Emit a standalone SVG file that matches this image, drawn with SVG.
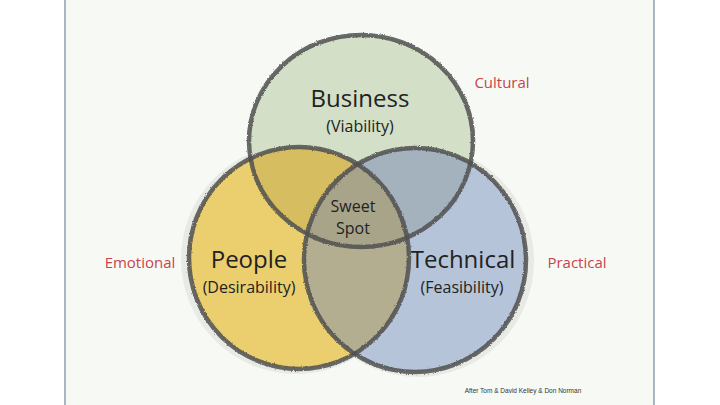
<svg xmlns="http://www.w3.org/2000/svg" width="720" height="405" viewBox="0 0 720 405">
<style>
.lbl{font-family:"Open Sans","Liberation Sans",sans-serif;fill:#222;text-anchor:middle}
.big{font-size:24px}
.sub{font-size:16px}
.red{font-family:"Open Sans","Liberation Sans",sans-serif;fill:#c9434c;font-size:15px;text-anchor:middle}
.edge{fill:none;stroke:#505050;stroke-width:4.5;stroke-opacity:0.85}
.halo{fill:none;stroke:#e7eae5;stroke-width:8}
</style>
<defs>
<filter id="sketch" x="-5%" y="-5%" width="110%" height="110%">
<feTurbulence type="fractalNoise" baseFrequency="0.9" numOctaves="2" seed="3" result="n"/>
<feDisplacementMap in="SourceGraphic" in2="n" scale="2.5" xChannelSelector="R" yChannelSelector="G"/>
</filter>
<clipPath id="cB"><ellipse cx="361" cy="141" rx="112" ry="106"/></clipPath>
<clipPath id="cP"><ellipse cx="299" cy="258" rx="110" ry="111"/></clipPath>
<clipPath id="cT"><ellipse cx="415" cy="260" rx="111" ry="112"/></clipPath>
</defs>
<rect x="0" y="0" width="720" height="405" fill="#ffffff"/>
<rect x="65" y="0" width="589" height="405" fill="#f7faf4"/>
<line x1="65" y1="0" x2="65" y2="405" stroke="#71879a" stroke-width="1.2"/>
<line x1="654" y1="0" x2="654" y2="405" stroke="#71879a" stroke-width="1.2"/>

<g id="halos">
<ellipse class="halo" cx="296" cy="259" rx="111" ry="111"/>
<ellipse class="halo" cx="418" cy="261" rx="112" ry="112"/>
</g>

<g id="business">
<ellipse cx="361" cy="141" rx="112" ry="106" fill="#d3dfc7"/>
</g>
<g id="people">
<ellipse cx="299" cy="258" rx="110" ry="111" fill="#ebcf6e"/>
</g>
<g id="technical">
<ellipse cx="415" cy="260" rx="111" ry="112" fill="#b6c4da"/>
</g>
<g id="overlaps">
<g clip-path="url(#cB)"><ellipse cx="299" cy="258" rx="110" ry="111" fill="#d6bd60"/><ellipse cx="415" cy="260" rx="111" ry="112" fill="#a4b2be"/></g>
<g clip-path="url(#cP)"><ellipse cx="415" cy="260" rx="111" ry="112" fill="#b4ae91"/></g>
<g clip-path="url(#cP)"><g clip-path="url(#cT)"><ellipse cx="361" cy="141" rx="112" ry="106" fill="#a8a48a"/></g></g>
</g>

<g id="edges" filter="url(#sketch)">
<ellipse class="edge" cx="361" cy="141" rx="112" ry="106"/>
<ellipse class="edge" cx="299" cy="258" rx="110" ry="111"/>
<ellipse class="edge" cx="415" cy="260" rx="111" ry="112"/>
</g>

<g id="business-label">
<text class="lbl big" x="360" y="107">Business</text>
<text class="lbl sub" x="360" y="132">(Viability)</text>
</g>
<g id="sweet-spot">
<text class="lbl sub" x="353" y="212">Sweet</text>
<text class="lbl sub" x="353" y="234">Spot</text>
</g>
<g id="people-label">
<text class="lbl big" x="249" y="268">People</text>
<text class="lbl sub" x="249" y="293">(Desirability)</text>
</g>
<g id="technical-label">
<text class="lbl big" x="463" y="268">Technical</text>
<text class="lbl sub" x="462" y="293">(Feasibility)</text>
</g>
<g id="side-labels">
<text class="red" x="502" y="88">Cultural</text>
<text class="red" x="140" y="268">Emotional</text>
<text class="red" x="577" y="268">Practical</text>
</g>
<text x="523" y="393" font-family="Liberation Sans, sans-serif" font-size="6.5" fill="#333" text-anchor="middle">After Tom &amp; David Kelley &amp; Don Norman</text>
</svg>
